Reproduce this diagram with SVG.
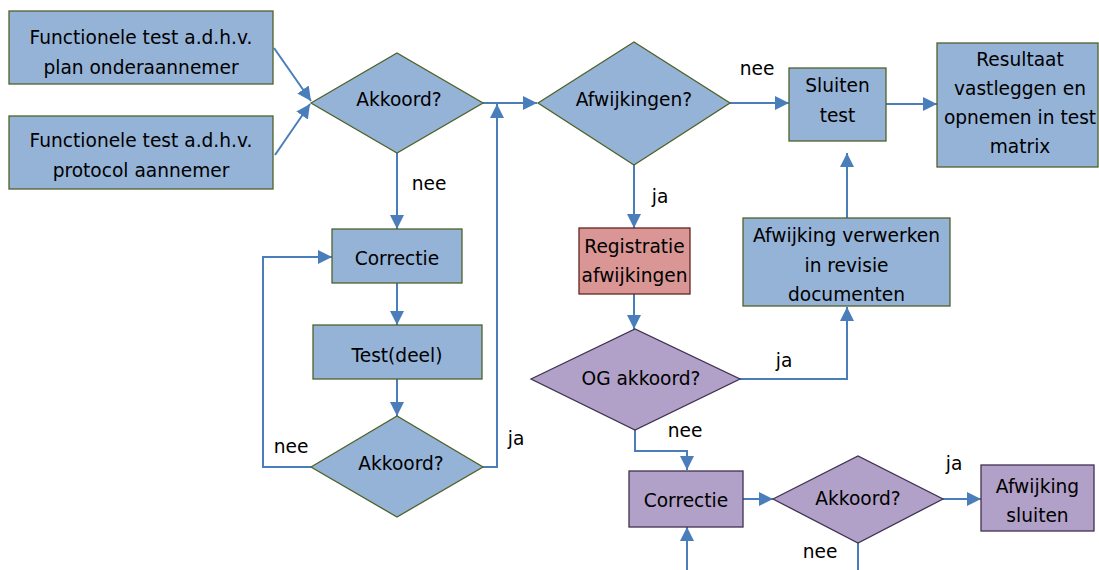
<svg xmlns="http://www.w3.org/2000/svg" width="1099" height="570" viewBox="0 0 1099 570">
<defs>
<marker id="ah" viewBox="0 0 10 10" refX="10" refY="5" markerWidth="14" markerHeight="14" markerUnits="userSpaceOnUse" orient="auto">
<path d="M0,0 L10,5 L0,10 z" fill="#4A7EBB"/>
</marker>
<style>
.blue{fill:#95B3D7;stroke:#4F6228;stroke-width:1.3}
.red{fill:#D99694;stroke:#632523;stroke-width:1.3}
.purple{fill:#B1A0C7;stroke:#3F3151;stroke-width:1.3}
text{font-family:"DejaVu Sans",Verdana,sans-serif;font-size:18.6px;fill:#000}
.c{text-anchor:middle}
.conn path{fill:none;stroke:#4A7EBB;stroke-width:2}
.arr{marker-end:url(#ah)}
</style>
</defs>
<rect width="1099" height="570" fill="#fff"/>
<g class="conn">
<path class="arr" d="M274,48 L311,101"/>
<path class="arr" d="M275,155 L310,104"/>
<path class="arr" d="M483,103 H537"/>
<path class="arr" d="M483,467 H497 V104"/>
<path class="arr" d="M730,103 H789"/>
<path class="arr" d="M886,104 H937"/>
<path class="arr" d="M847,218 V153"/>
<path class="arr" d="M634,165 V228"/>
<path class="arr" d="M397,153 V229"/>
<path class="arr" d="M397,283 V325"/>
<path class="arr" d="M397,379 V416"/>
<path class="arr" d="M311,467 H263 V257 H332"/>
<path class="arr" d="M634,294 V329"/>
<path class="arr" d="M740,379 H847 V307"/>
<path class="arr" d="M635,430 V451 H687 V470"/>
<path class="arr" d="M687,570 V527"/>
<path class="arr" d="M743,499 H773"/>
<path class="arr" d="M943,499 H981"/>
<path d="M858,543 V570"/>
</g>
<g id="lbl">
<text class="c" x="429" y="190">nee</text>
<text class="c" x="757" y="75">nee</text>
<text class="c" x="660" y="203">ja</text>
<text class="c" x="291" y="453">nee</text>
<text class="c" x="516" y="445">ja</text>
<text class="c" x="784" y="367">ja</text>
<text class="c" x="685" y="437">nee</text>
<text class="c" x="954" y="470">ja</text>
<text class="c" x="820" y="558">nee</text>
</g>
<g id="n1"><rect class="blue" x="9" y="11" width="264" height="73"/><text class="c" x="141" y="44">Functionele test a.d.h.v.</text><text class="c" x="141" y="74">plan onderaannemer</text></g>
<g id="n2"><rect class="blue" x="9" y="116" width="264" height="73"/><text class="c" x="141" y="147">Functionele test a.d.h.v.</text><text class="c" x="141" y="177">protocol aannemer</text></g>
<g id="d1"><path class="blue" d="M311,103 L397,53 L483,103 L397,153 z"/><text class="c" x="399" y="106">Akkoord?</text></g>
<g id="d2"><path class="blue" d="M538,103 L634,42 L730,103 L634,165 z"/><text class="c" x="634" y="106">Afwijkingen?</text></g>
<g id="n3"><rect class="blue" x="789" y="68" width="97" height="73"/><text class="c" x="837.5" y="92">Sluiten</text><text class="c" x="837.5" y="122">test</text></g>
<g id="n4"><rect class="blue" x="937" y="43" width="161" height="124"/><text class="c" x="1020" y="66">Resultaat</text><text class="c" x="1020" y="95">vastleggen en</text><text class="c" x="1020" y="124">opnemen in test</text><text class="c" x="1020" y="153">matrix</text></g>
<g id="n5"><rect class="blue" x="332" y="229" width="130" height="54"/><text class="c" x="397" y="265">Correctie</text></g>
<g id="n6"><rect class="blue" x="313" y="325" width="169" height="54"/><text class="c" x="397" y="362">Test(deel)</text></g>
<g id="d3"><path class="blue" d="M311,467 L397,416 L483,467 L397,517 z"/><text class="c" x="401" y="470">Akkoord?</text></g>
<g id="n7"><rect class="red" x="579" y="228" width="111" height="66"/><text class="c" x="634.5" y="253">Registratie</text><text class="c" x="634.5" y="282">afwijkingen</text></g>
<g id="n8"><rect class="blue" x="743" y="218" width="207" height="88"/><text class="c" x="846.5" y="242">Afwijking verwerken</text><text class="c" x="846.5" y="272">in revisie</text><text class="c" x="846.5" y="301">documenten</text></g>
<g id="d4"><path class="purple" d="M531,379 L635,329 L740,379 L635,430 z"/><text class="c" x="641" y="385">OG akkoord?</text></g>
<g id="n9"><rect class="purple" x="629" y="471" width="114" height="56"/><text class="c" x="686" y="507">Correctie</text></g>
<g id="d5"><path class="purple" d="M773,499 L858,456 L943,499 L858,543 z"/><text class="c" x="858" y="505">Akkoord?</text></g>
<g id="n10"><rect class="purple" x="981" y="465" width="113" height="66"/><text class="c" x="1037.5" y="493">Afwijking</text><text class="c" x="1037.5" y="522">sluiten</text></g>
</svg>
